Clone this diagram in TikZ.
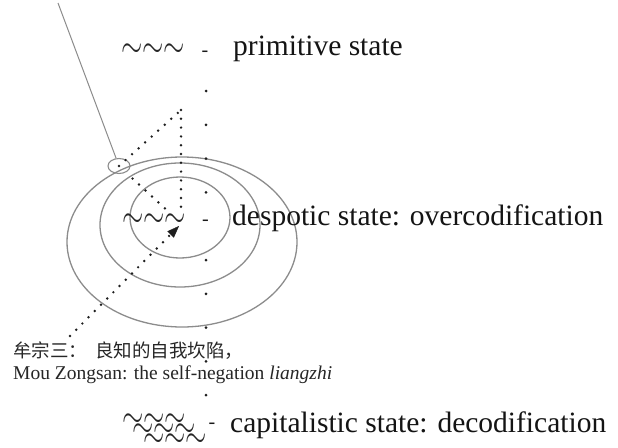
\documentclass[tikz,border=0pt]{standalone}
\usepackage{fontspec}
\setmainfont{Liberation Serif}
\newfontfamily\cjk{Noto Sans CJK SC}
\usetikzlibrary{arrows.meta,shapes.geometric}
\definecolor{ringgray}{HTML}{8C8C8C}
\definecolor{dotc}{HTML}{1E1E1E}
\newcommand{\tildrow}{\scalebox{1.1}[1.5]{$\sim\sim\sim$}}
\begin{document}
\begin{tikzpicture}[x=1pt,y=-1pt,
  ring/.style={draw=ringgray, line width=1.3pt},
  ringnode/.style={ellipse, ring, inner sep=0pt},
  dotline/.style={draw=dotc, line width=2.7pt, line cap=round, dash pattern=on 0pt off 8.8pt},
  lab/.style={inner sep=0pt, anchor=base west, text=black!92, font=\fontsize{29.5}{34}\selectfont},
  tild/.style={inner sep=0pt, anchor=base west, text=black!85, font=\fontsize{28}{34}\selectfont},
  ctild/.style={inner sep=0pt, anchor=base west, text=black!85, font=\fontsize{24}{30}\selectfont},
  dsh/.style={inner sep=0pt, anchor=base, text=black!90, font=\fontsize{20}{24}\selectfont},
  cdot/.style={circle, fill=dotc, inner sep=0pt, minimum size=3pt},
  small/.style={inner sep=0pt, anchor=base west, text=black!85}
]
\useasboundingbox (0,0) rectangle (618,447);
\fill[white] (0,0) rectangle (618,447);

% concentric ellipses
\node[ringnode, minimum width=230pt, minimum height=170pt] (outer) at (182,242) {};
\node[ringnode, minimum width=160pt, minimum height=124pt] (middle) at (180,225) {};
\node[ringnode, minimum width=100pt, minimum height=81pt] (inner) at (180,217.5) {};

% small eye ellipse and pointer line
\node[ringnode, line width=1.1pt, minimum width=22pt, minimum height=15pt] (eye) at (119,166) {};
\coordinate (topc) at (58,3);
\draw[ringgray, line width=1pt] (topc) -- (eye);

% dotted lines
\coordinate (apex) at (181,110);
\coordinate (vbot) at (181,212);
\coordinate (dend) at (171,214);
\coordinate (al) at (70,336);
\coordinate (atip) at (179,226);
\draw[dotline] (eye.center) -- (apex);
\draw[dotline] (apex) -- (vbot);
\draw[dotline, shorten <=9pt] (eye) -- (dend);
\draw[dotline, -{Triangle[length=12pt,width=9pt,line width=0.4pt]}] (al) -- (atip);

% right dotted column
\foreach \k in {0,1,2,3,5,6,7,8,9}
  \node[cdot] (col\k) at (206,91+33.8*\k) {};

% primitive state
\node[tild] (pt) at (121,57) {\tildrow};
\node[dsh] (pd) at (205,56) {-};
\node[lab] (pl) at (233,55) {primitive state};

% despotic state
\node[tild] (dt) at (122,227) {\tildrow};
\node[dsh] (dd) at (205.5,225) {-};
\node[lab] (dl) at (232,225) {despotic state: overcodification};

% capitalistic state (three staggered rows in one node)
\node[ctild] (ct) at (122,427) {\rlap{\tildrow}\rlap{\hspace{10pt}\raisebox{-10pt}{\tildrow}}\hspace{21pt}\raisebox{-20pt}{\tildrow}};
\node[dsh] (cd) at (212,428) {-};
\node[lab] (cl) at (230,432) {capitalistic state: decodification};

% Mou Zongsan caption
\node[small, font=\cjk\fontsize{18.5}{22}\selectfont] (zh) at (13,357.5) {牟宗三：\hspace{8pt}良知的自我坎陷，};
\node[small, font=\fontsize{19.5}{22}\selectfont] (en) at (13,379) {Mou Zongsan: the self-negation \textit{liangzhi}};
\end{tikzpicture}
\end{document}
